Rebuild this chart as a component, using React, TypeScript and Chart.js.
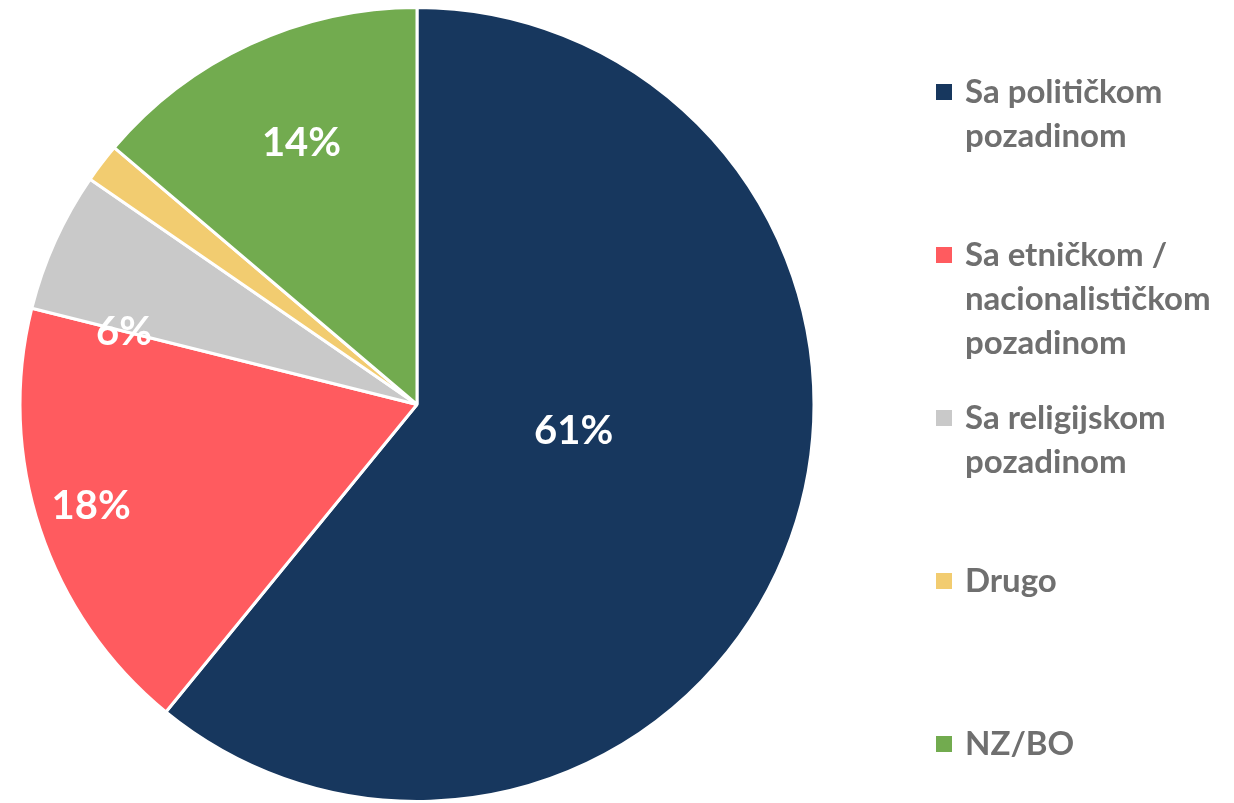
import React, { useEffect, useRef } from "react";
import { Chart, registerables } from "chart.js";

Chart.register(...registerables);

const categories: string[] = [
  "Sa političkom pozadinom",
  "Sa etničkom / nacionalističkom pozadinom",
  "Sa religijskom pozadinom",
  "Drugo",
  "NZ/BO",
];
const shares: number[] = [60.9, 18.0, 5.7, 1.6, 13.8];
const colors: string[] = ["#17375e", "#ff5b5f", "#c9c9c9", "#f2cc70", "#72ab4f"];

const FONT = "Lato, 'Open Sans', sans-serif";

function wrap(ctx: CanvasRenderingContext2D, text: string, maxW: number): string[] {
  const words = text.split(" ");
  const lines: string[] = [];
  let cur = "";
  for (const w of words) {
    const t = cur ? cur + " " + w : w;
    if (cur && ctx.measureText(t).width > maxW) {
      lines.push(cur);
      cur = w;
    } else cur = t;
  }
  if (cur) lines.push(cur);
  return lines;
}

const labelPlugin = {
  id: "sliceLabels",
  afterDatasetsDraw(chart: any, _args: any, opts: any) {
    const ctx: CanvasRenderingContext2D = chart.ctx;
    const meta = chart.getDatasetMeta(0);
    const data = chart.data.datasets[0].data as number[];
    ctx.save();
    ctx.fillStyle = "#ffffff";
    ctx.font = `bold ${opts.size}px ${FONT}`;
    ctx.textAlign = "center";
    ctx.textBaseline = "middle";
    meta.data.forEach((arc: any, i: number) => {
      const v = data[i];
      if (v < 3) return;
      const mid = (arc.startAngle + arc.endAngle) / 2 + (opts.offsets[i] * Math.PI) / 180;
      const r = arc.outerRadius * opts.fractions[i];
      const x = arc.x + Math.cos(mid) * r;
      const y = arc.y + Math.sin(mid) * r;
      ctx.fillText(Math.round(v) + "%", x, y);
    });
    ctx.restore();
  },
};

const legendPlugin = {
  id: "sideLegend",
  afterDraw(chart: any, _args: any, opts: any) {
    const ctx: CanvasRenderingContext2D = chart.ctx;
    const labels = chart.data.labels as string[];
    const bg = chart.data.datasets[0].backgroundColor as string[];
    ctx.save();
    ctx.font = `bold ${opts.size}px ${FONT}`;
    ctx.textBaseline = "middle";
    ctx.textAlign = "left";
    labels.forEach((lab, i) => {
      const y0 = opts.top + i * opts.step;
      ctx.fillStyle = bg[i];
      ctx.fillRect(opts.boxX, y0 - opts.box / 2, opts.box, opts.box);
      ctx.fillStyle = opts.color;
      const lines = wrap(ctx, lab, opts.maxWidth);
      lines.forEach((ln, j) => ctx.fillText(ln, opts.textX, y0 + j * opts.lineHeight));
    });
    ctx.restore();
  },
};

export default function App() {
  const ref = useRef<HTMLCanvasElement>(null);
  useEffect(() => {
    if (!ref.current) return;
    const chart = new Chart(ref.current, {
      type: "pie",
      data: {
        labels: categories,
        datasets: [
          {
            data: shares,
            backgroundColor: colors,
            borderColor: "#ffffff",
            borderWidth: 3,
          },
        ],
      },
      options: {
        responsive: false,
        animation: false,
        layout: { padding: { left: 17, right: 417, top: 6, bottom: -3 } },
        plugins: {
          legend: { display: false },
          tooltip: { enabled: false },
          sliceLabels: { size: 40, fractions: [0.4, 0.86, 0.76, 0, 0.72], offsets: [-10, 1, -10.5, 0, 1] },
          sideLegend: {
            size: 33,
            color: "#6f6f6f",
            top: 92,
            step: 163,
            lineHeight: 44,
            box: 16,
            boxX: 936,
            textX: 965,
            maxWidth: 268,
          },
        } as any,
      },
      plugins: [labelPlugin, legendPlugin],
    });
    return () => chart.destroy();
  }, []);
  return (
    <div style={{ position: "fixed", left: 0, top: 0, width: 1234, height: 803, background: "#fff" }}>
      <canvas ref={ref} width={1234} height={803} style={{ display: "block" }} />
    </div>
  );
}
